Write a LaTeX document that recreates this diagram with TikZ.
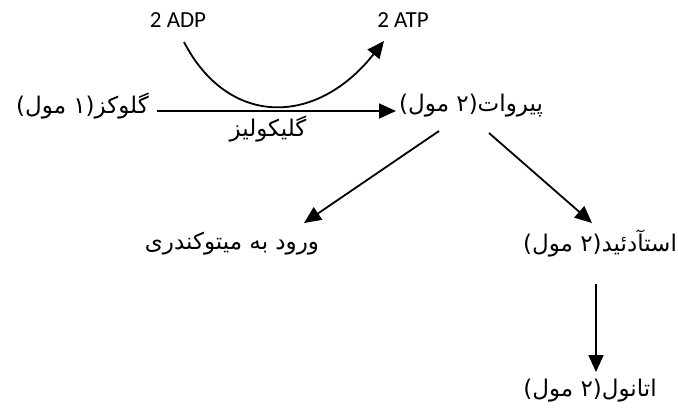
\documentclass[tikz,border=0pt]{standalone}
\usepackage{fontspec}
\setmainfont{Carlito}
\newfontfamily\arabicfont[Script=Arabic]{DejaVu Sans}
\TeXXeTstate=1
\usetikzlibrary{arrows.meta}
\begin{document}
\begin{tikzpicture}[x=1pt,y=-1pt,
  fa/.style={font=\arabicfont\fontsize{23}{26}\selectfont, inner sep=0pt},
  lat/.style={font=\fontsize{23}{26}\selectfont, inner sep=0pt},
  arr/.style={line width=1.8pt, -{Triangle[length=17pt,width=15pt]}}]
\useasboundingbox[fill=white] (0,0) rectangle (678,416);
\node[lat] (adp) at (178,20) {2 ADP};
\node[lat] (atp) at (403,20) {2 ATP};
\node[fa, anchor=east] (glu) at (149,106) {\beginR گلوکز(۱ مول)\endR};
\node[fa, anchor=west] (pyr) at (399,106) {\beginR پیروات(۲ مول)\endR};
\node[fa] (gly) at (268,129) {\beginR گلیکولیز\endR};
\node[fa] (mito) at (232,244) {\beginR ورود به میتوکندری\endR};
\node[fa] (acet) at (600,244) {\beginR استآدئید(۲ مول)\endR};
\node[fa] (eth) at (590,391) {\beginR اتانول(۲ مول)\endR};
\coordinate (c1) at (184,42);
\coordinate (c2) at (384,41);
\draw[arr] (c1) .. controls (228,127) and (316,127) .. (c2);
\draw[arr] (157,111) -- (396,111);
\draw[arr] (439,131) -- (304,223);
\draw[arr] (489,133) -- (592,223);
\draw[arr] (596,284) -- (596,372);
\end{tikzpicture}
\end{document}
